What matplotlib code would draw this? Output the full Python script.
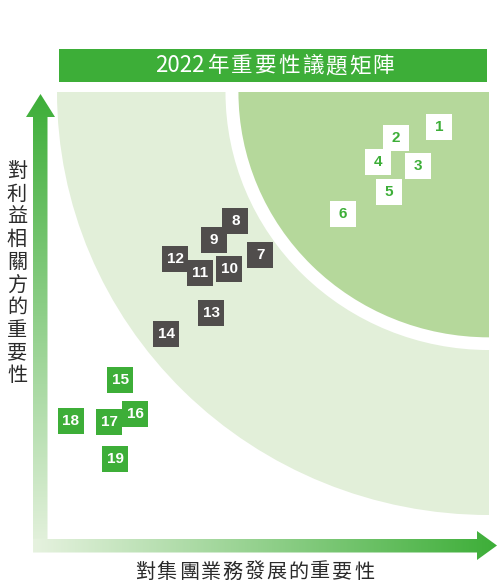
import matplotlib
matplotlib.use('Agg')
import numpy as np
import matplotlib.pyplot as plt
from matplotlib.patches import Circle, Rectangle, Polygon
from matplotlib.colors import LinearSegmentedColormap

CJK = ['Noto Sans CJK TC', 'DejaVu Sans']

TITLE_YEAR = '2022'
TITLE = '年重要性議題矩陣'
XLABEL = '對集團業務發展的重要性'
YLABEL = '對利益相關方的重要性'

# issue number, importance to business (x), importance to stakeholders (y), tier
issue_ids = list(range(1, 20))
business = [8.84, 7.84, 8.35, 7.42, 7.68, 6.61, 4.71, 4.13, 3.64, 3.99,
            3.32, 2.74, 3.57, 2.53, 1.46, 1.81, 1.21, 0.32, 1.35]
stakeholder = [9.17, 8.91, 8.25, 8.35, 7.64, 7.12, 6.15, 6.95, 6.50, 5.82,
               5.72, 6.05, 4.78, 4.28, 3.19, 2.39, 2.20, 2.22, 1.32]
tier = ['high'] * 6 + ['mid'] * 8 + ['low'] * 5

GREEN = '#3DAE38'
DARK = '#504D4C'
LIGHT = '#E2EFD9'
INNER = '#B5D89B'
box_color = {'high': 'white', 'mid': DARK, 'low': GREEN}
text_color = {'high': GREEN, 'mid': 'white', 'low': 'white'}

W, H = 497, 585
fig = plt.figure(figsize=(W / 100, H / 100), dpi=100)

# overlay in pixel coords for arrows / title bar / labels
ov = fig.add_axes([0, 0, 1, 1])
ov.set_axis_off()

cmap = LinearSegmentedColormap.from_list('g', ['#E6F2DF', GREEN])


def gradient_arrow(verts, extent, horizontal):
    poly = Polygon(verts, closed=True, fc='none', ec='none')
    ov.add_patch(poly)
    g = np.linspace(0, 1, 256)
    img = g[None, :] if horizontal else g[:, None]
    im = ov.imshow(img, cmap=cmap, extent=extent, aspect='auto', origin='lower')
    im.set_clip_path(poly)


def spaced(chars, x0, y0, dx, dy, **kw):
    # CJK text with letter spacing, one glyph at a time
    for i, ch in enumerate(chars):
        ov.text(x0 + i * dx, y0 + i * dy, ch, ha='center', va='center',
                family=CJK, **kw)


# vertical arrow
gradient_arrow([(33, 552), (33, 117), (26, 117), (40.5, 94), (55, 117),
                (47.5, 117), (47.5, 552)], (26, 55, 552, 94), False)
# horizontal arrow
gradient_arrow([(33, 539), (477, 539), (477, 531), (497, 545.5), (477, 560),
                (477, 552.5), (33, 552.5)], (33, 497, 560, 531), True)

ov.add_patch(Rectangle((59, 49), 428, 33, fc=GREEN, ec='none'))
ov.text(155, 66, TITLE_YEAR, color='white', fontsize=16, ha='left', va='center',
        family=CJK)
spaced(TITLE, 218.5, 66, 23.5, 0, color='white', fontsize=15.5)
spaced(XLABEL, 145, 572, 21.9, 0, color='#2B2B2B', fontsize=14.5)
spaced(YLABEL, 17, 171.5, 0, 22.7, color='#2B2B2B', fontsize=14.5)
ov.set_xlim(0, W)
ov.set_ylim(H, 0)

# matrix
ax = fig.add_axes([57 / W, (H - 515) / H, 432 / W, 423 / H])
ax.set_xlim(0, 10)
ax.set_ylim(0, 10)
ax.set_axis_off()
ax.add_patch(Circle((10, 10), 10, fc=LIGHT, ec='none'))
ax.add_patch(Circle((10, 10), 6.1, fc='white', ec='none'))
ax.add_patch(Circle((10, 10), 5.8, fc=INNER, ec='none'))

ax.scatter(business, stakeholder, marker='s', s=350,
           c=[box_color[t] for t in tier], linewidths=0, zorder=3)
for n, x, y, t in zip(issue_ids, business, stakeholder, tier):
    ax.text(x, y, str(n), color=text_color[t], fontsize=11, fontweight='bold',
            family='Liberation Sans', ha='center', va='center', zorder=4)

fig.savefig('out.png', dpi=100)
